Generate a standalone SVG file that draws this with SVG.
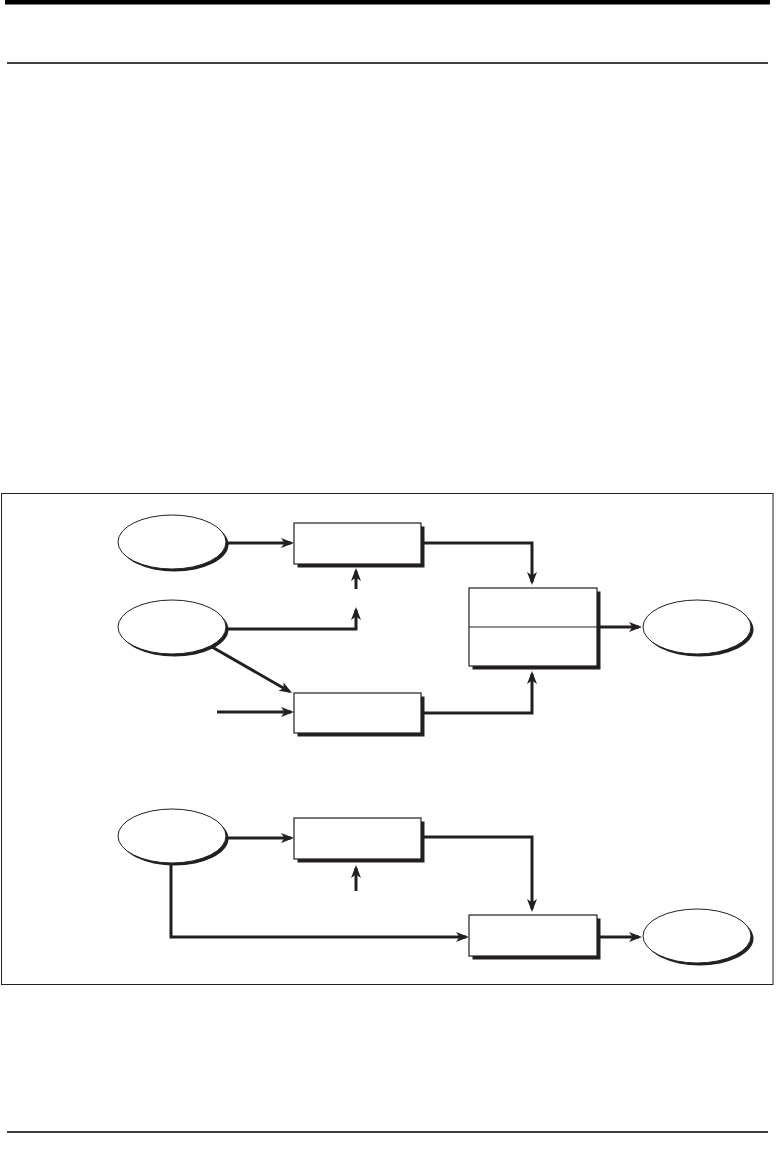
<svg xmlns="http://www.w3.org/2000/svg" width="776" height="1160" viewBox="0 0 776 1160">
<style>
.conn{fill:none;stroke:#231f20;stroke-width:3;stroke-linejoin:miter}
.box{fill:#fff;stroke:#231f20;stroke-width:1.2}
.shadow{fill:#231f20}
.ell{fill:#fff;stroke:#231f20;stroke-width:1}
.rule{stroke:#000}
</style>
<defs>
<marker id="arr" markerUnits="userSpaceOnUse" markerWidth="13" markerHeight="11" viewBox="0 0 13 11" refX="10" refY="5.5" orient="auto">
<path d="M0,0.5 L13,5.5 L0,10.5 L3.5,5.5 z" fill="#231f20"/>
</marker>
</defs>
<rect width="776" height="1160" fill="#fff"/>
<rect x="5" y="0" width="765" height="4.5" fill="#000"/>
<line class="rule" x1="7" y1="63" x2="768" y2="63" stroke-width="1.5"/>
<line class="rule" x1="7" y1="1132" x2="768" y2="1132" stroke-width="1.5"/>
<rect x="1.5" y="493.5" width="771.5" height="491" fill="none" stroke="#231f20" stroke-width="1"/>

<g id="connectors">
<path class="conn" d="M226,543 H291" marker-end="url(#arr)"/>
<path class="conn" d="M356,589 V571" marker-end="url(#arr)"/>
<path class="conn" d="M226,629 H356 V610" marker-end="url(#arr)"/>
<path class="conn" d="M212,647 L289.5,691.5" marker-end="url(#arr)"/>
<path class="conn" d="M217,712 H291" marker-end="url(#arr)"/>
<path class="conn" d="M424,543 H532 V582" marker-end="url(#arr)"/>
<path class="conn" d="M424,713 H532 V674" marker-end="url(#arr)"/>
<path class="conn" d="M600,627 H639" marker-end="url(#arr)"/>
<path class="conn" d="M226,838 H291" marker-end="url(#arr)"/>
<path class="conn" d="M356,891 V868" marker-end="url(#arr)"/>
<path class="conn" d="M424,837 H532 V909" marker-end="url(#arr)"/>
<path class="conn" d="M171,864 V937 H466" marker-end="url(#arr)"/>
<path class="conn" d="M600,937 H639" marker-end="url(#arr)"/>
</g>

<g id="ellipse1">
<ellipse class="shadow" cx="174.5" cy="544.5" rx="54" ry="27"/>
<ellipse class="ell" cx="172" cy="542" rx="54" ry="27"/>
</g>
<g id="ellipse2">
<ellipse class="shadow" cx="174.5" cy="629.5" rx="54" ry="27"/>
<ellipse class="ell" cx="172" cy="627" rx="54" ry="27"/>
</g>
<g id="ellipse3">
<ellipse class="shadow" cx="174.5" cy="838.5" rx="54" ry="27"/>
<ellipse class="ell" cx="172" cy="836" rx="54" ry="27"/>
</g>
<g id="ellipse4">
<ellipse class="shadow" cx="699.5" cy="629.5" rx="54" ry="27"/>
<ellipse class="ell" cx="697" cy="627" rx="54" ry="27"/>
</g>
<g id="ellipse5">
<ellipse class="shadow" cx="699.5" cy="938.5" rx="54" ry="27"/>
<ellipse class="ell" cx="697" cy="936" rx="54" ry="27"/>
</g>

<g id="box1">
<rect class="shadow" x="297.5" y="526.5" width="127" height="41"/>
<rect class="box" x="294" y="523" width="127" height="41"/>
</g>
<g id="box2">
<rect class="shadow" x="297.5" y="696.5" width="127" height="40"/>
<rect class="box" x="294" y="693" width="127" height="40"/>
</g>
<g id="box3">
<rect class="shadow" x="472.5" y="591.5" width="128" height="78"/>
<rect class="box" x="469" y="588" width="128" height="78"/>
<line x1="469" y1="627" x2="597" y2="627" stroke="#231f20" stroke-width="1.2"/>
</g>
<g id="box4">
<rect class="shadow" x="297.5" y="821.5" width="127" height="41"/>
<rect class="box" x="294" y="818" width="127" height="41"/>
</g>
<g id="box5">
<rect class="shadow" x="472.5" y="918.5" width="128" height="41"/>
<rect class="box" x="469" y="915" width="128" height="41"/>
</g>
</svg>
